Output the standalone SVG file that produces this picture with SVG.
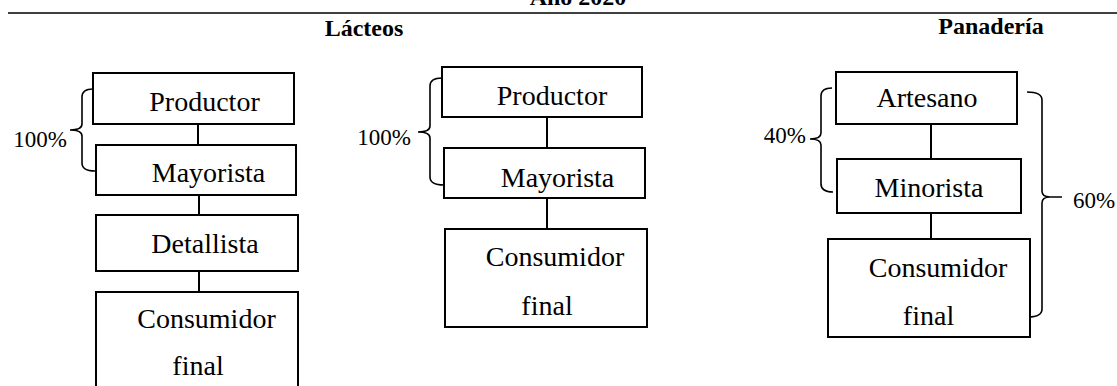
<svg xmlns="http://www.w3.org/2000/svg" width="1117" height="386" viewBox="0 0 1117 386">
<style>
.box{fill:#fff;stroke:#000;stroke-width:2}
.lbl{font-family:"Liberation Serif","Times New Roman",serif;font-size:28px;fill:#000;text-anchor:middle}
.pct{font-family:"Liberation Serif","Times New Roman",serif;font-size:23px;fill:#000}
.ttl{font-family:"Liberation Serif","Times New Roman",serif;font-size:24px;font-weight:bold;fill:#000;text-anchor:middle}
.con{stroke:#000;stroke-width:2;fill:none}
.brace{stroke:#000;stroke-width:1.6;fill:none}
</style>
<rect width="1117" height="386" fill="#fff"/>
<g id="header">
<text class="ttl" x="578" y="5">Año 2020</text>
<line x1="8" y1="13" x2="1117" y2="13" stroke="#000" stroke-width="1.6"/>
<text class="ttl" x="364" y="36">Lácteos</text>
<text class="ttl" x="991" y="34">Panadería</text>
</g>
<g id="connectors">
<line class="con" x1="198" y1="124" x2="198" y2="145"/>
<line class="con" x1="199" y1="195" x2="199" y2="215"/>
<line class="con" x1="199" y1="271" x2="199" y2="292"/>
<line class="con" x1="547" y1="117" x2="547" y2="148"/>
<line class="con" x1="547" y1="198" x2="547" y2="229"/>
<line class="con" x1="931" y1="124" x2="931" y2="159"/>
<line class="con" x1="931" y1="213" x2="931" y2="239"/>
</g>
<g id="braces">
<path class="brace" d="M93,89 Q82,89 82,97 L82,124 Q82,130 70,130 Q82,130 82,136 L82,163 Q82,171 95,171"/>
<text class="pct" x="67" y="147" text-anchor="end">100%</text>
<path class="brace" d="M442,78 Q430,78 430,86 L430,126 Q430,132 418,132 Q430,132 430,138 L430,177 Q430,185 444,185"/>
<text class="pct" x="411" y="145" text-anchor="end">100%</text>
<path class="brace" d="M832,88 Q821,88 821,96 L821,133 Q821,139 810,139 Q821,139 821,145 L821,184 Q821,192 833,192"/>
<text class="pct" x="806" y="143" text-anchor="end">40%</text>
<path class="brace" d="M1027,92 Q1042,92 1042,100 L1042,191 Q1042,197 1050,197 L1062,197 M1050,197 Q1042,197 1042,203 L1042,309 Q1042,317 1028,317"/>
<text class="pct" x="1073" y="208">60%</text>
</g>
<g id="l-productor"><rect class="box" x="93" y="73" width="201" height="51"/><text class="lbl" x="204.5" y="111">Productor</text></g>
<g id="l-mayorista"><rect class="box" x="96" y="145" width="200" height="50"/><text class="lbl" x="208.5" y="182">Mayorista</text></g>
<g id="l-detallista"><rect class="box" x="96" y="215" width="202" height="56"/><text class="lbl" x="205" y="253">Detallista</text></g>
<g id="l-consumidor"><rect class="box" x="96" y="292" width="202" height="120"/><text class="lbl" x="206.5" y="328">Consumidor</text><text class="lbl" x="198" y="375">final</text></g>
<g id="m-productor"><rect class="box" x="442" y="67" width="200" height="50"/><text class="lbl" x="552" y="105">Productor</text></g>
<g id="m-mayorista"><rect class="box" x="444" y="148" width="201" height="50"/><text class="lbl" x="557.5" y="187">Mayorista</text></g>
<g id="m-consumidor"><rect class="box" x="445" y="229" width="202" height="98"/><text class="lbl" x="555" y="266">Consumidor</text><text class="lbl" x="547" y="315">final</text></g>
<g id="r-artesano"><rect class="box" x="836" y="72" width="181" height="52"/><text class="lbl" x="927" y="107">Artesano</text></g>
<g id="r-minorista"><rect class="box" x="837" y="159" width="184" height="54"/><text class="lbl" x="929" y="197">Minorista</text></g>
<g id="r-consumidor"><rect class="box" x="828" y="239" width="202" height="98"/><text class="lbl" x="938" y="277">Consumidor</text><text class="lbl" x="928.5" y="325">final</text></g>
</svg>
